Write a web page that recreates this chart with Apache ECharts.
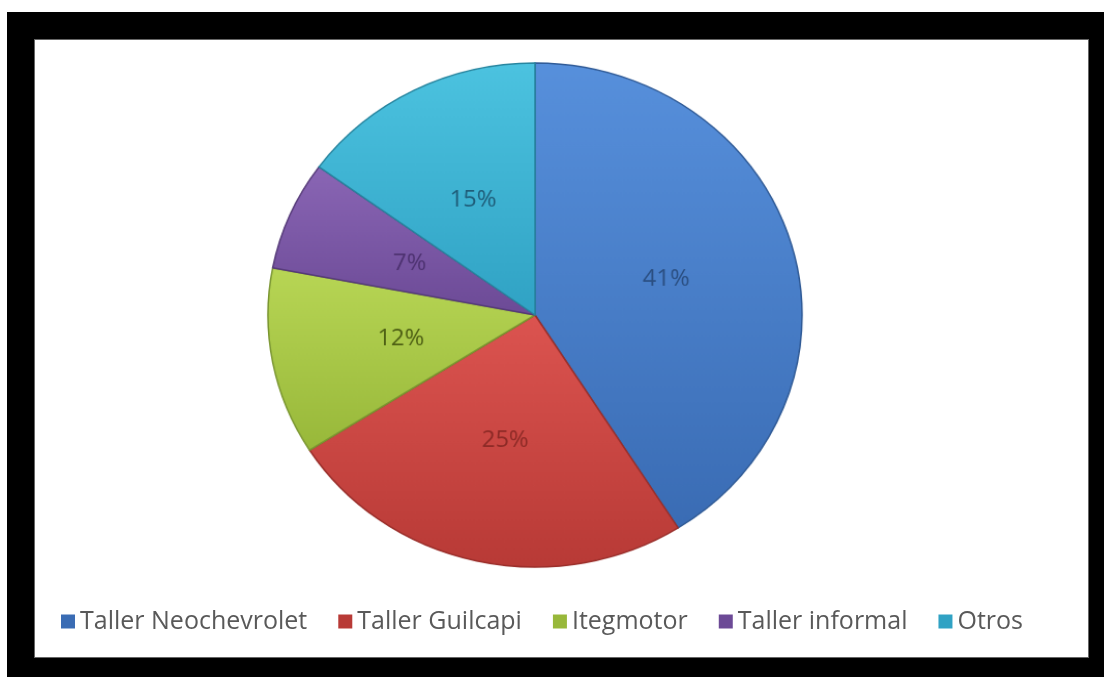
<!DOCTYPE html>
<html>
<head>
<meta charset="utf-8">
<script src="https://cdn.jsdelivr.net/npm/echarts@6/dist/echarts.min.js"></script>
<style>
  html, body { margin: 0; padding: 0; background: #fff; }
  #frame { position: absolute; left: 7px; top: 12px; width: 1097px; height: 665px; background: #000; }
  #inner { position: absolute; left: 34px; top: 39px; width: 1053px; height: 617px; background: #fff; border: 1px solid #666; }
  #chart { position: absolute; left: 0; top: 0; width: 1104px; height: 677px; }
  /* el pastel del original es un poco ovalado */
  #pie { position: absolute; left: 0; top: 0; width: 1104px; height: 677px;
         transform-origin: 535px 315px; transform: scale(1.035, 0.977); }
</style>
</head>
<body>
<div id="frame"></div>
<div id="inner"></div>
<div id="pie"></div>
<div id="chart"></div>
<script>
// categorías y valores (%)
var categories = ["Taller Neochevrolet", "Taller Guilcapi", "Itegmotor", "Taller informal", "Otros"];
var values = [41, 25, 12, 7, 15];

// colores de relleno (claro, oscuro), borde y etiqueta
var fillLight = ["#5790dc", "#dc5450", "#b8d655", "#8a66b5", "#4cc3e0"];
var fillDark = ["#3a6cb4", "#b83a36", "#98b83a", "#6c4a96", "#30a2c4"];
var edgeColors = ["#2f5a96", "#9a2e2a", "#7a9630", "#553a78", "#26849e"];
var labelColors = ["#2b4f82", "#8c2a26", "#4d5f14", "#4d3270", "#1f5c78"];

var pieChart = echarts.init(document.getElementById("pie"));
var legendChart = echarts.init(document.getElementById("chart"));

var pieData = categories.map(function (name, i) {
  return {
    name: name,
    value: values[i],
    itemStyle: {
      color: new echarts.graphic.LinearGradient(0, 0, 0, 1, [
        { offset: 0, color: fillLight[i] },
        { offset: 1, color: fillDark[i] }
      ]),
      borderColor: edgeColors[i],
      borderWidth: 1.5
    },
    label: { color: labelColors[i] }
  };
});

// pastel
pieChart.setOption({
  backgroundColor: "transparent",
  animation: false,
  series: [
    {
      type: "pie",
      center: [535, 315],
      radius: 258,
      startAngle: 90,
      clockwise: true,
      label: {
        position: "inside",
        formatter: "{c}%",
        fontFamily: "Open Sans",
        fontSize: 23
      },
      labelLine: { show: false },
      data: pieData
    }
  ]
});

// leyenda (serie sin tamaño, solo para dar colores a la leyenda)
legendChart.setOption({
  backgroundColor: "transparent",
  animation: false,
  legend: {
    bottom: 38,
    left: 56,
    itemWidth: 14,
    itemHeight: 14,
    itemGap: 31,
    icon: "rect",
    itemStyle: { opacity: 1, borderWidth: 0 },
    textStyle: { fontFamily: "Open Sans", fontSize: 25, color: "#595959" },
    data: categories
  },
  series: [
    {
      type: "pie",
      center: [-100, -100],
      radius: 1,
      silent: true,
      label: { show: false },
      labelLine: { show: false },
      data: categories.map(function (name, i) {
        return { name: name, value: values[i], itemStyle: { color: fillDark[i] } };
      })
    }
  ]
});

window.addEventListener("resize", function () {
  pieChart.resize();
  legendChart.resize();
});
</script>
</body>
</html>
